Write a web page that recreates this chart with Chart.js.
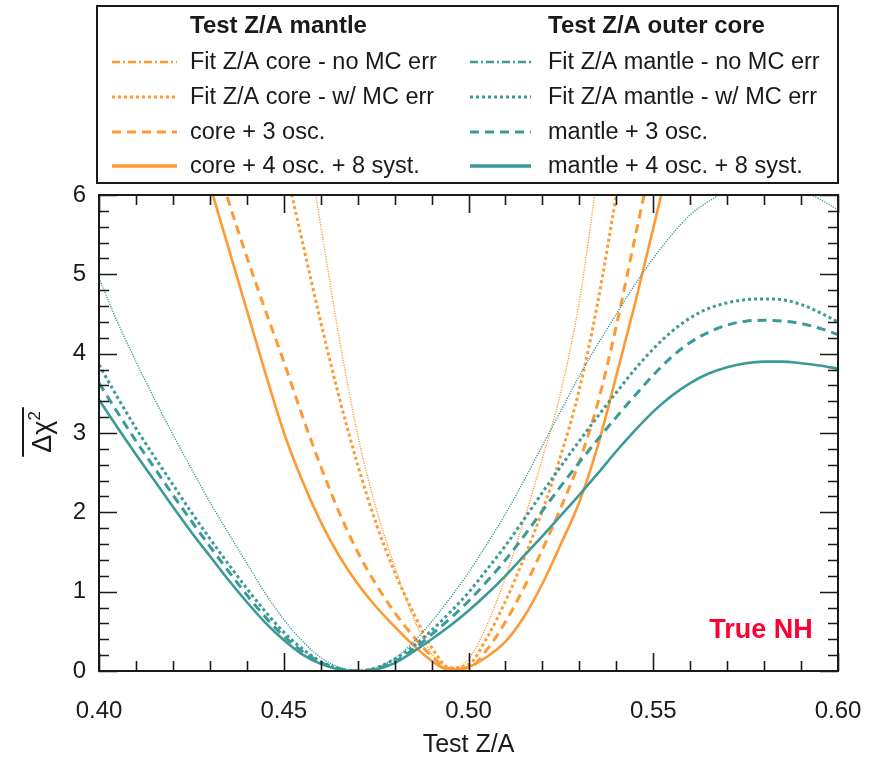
<!DOCTYPE html>
<html>
<head>
<meta charset="utf-8">
<script src="https://cdn.jsdelivr.net/npm/chart.js@4/dist/chart.umd.min.js"></script>
<style>
  html, body { margin: 0; padding: 0; background: #ffffff; }
  canvas { display: block; }
</style>
</head>
<body>
<canvas id="chart" width="873" height="760"></canvas>
<script>
// Test Z/A sample points
const testZA = [
  0.400, 0.405, 0.410, 0.415, 0.420, 0.425, 0.430, 0.435, 0.440, 0.445,
  0.450, 0.455, 0.460, 0.465, 0.470, 0.475, 0.480, 0.485, 0.490, 0.495,
  0.500, 0.505, 0.510, 0.515, 0.520, 0.525, 0.530, 0.535, 0.540, 0.545,
  0.550, 0.555, 0.560, 0.565, 0.570, 0.575, 0.580, 0.585, 0.590, 0.595, 0.600
];

// Test Z/A mantle: fit of the core Z/A (orange)
const coreNoMC = [
  null, null, null, null, null, null, null, null, null, null,
  null, 7.00, 5.62, 4.20, 2.98, 2.05, 1.32, 0.68, 0.22, 0.02,
  0.15, 0.58, 1.18, 1.90, 2.68, 3.52, 4.66, 6.25, 7.60, null,
  null, null, null, null, null, null, null, null, null, null, null
];
const coreWithMC = [
  null, null, null, null, null, null, null, null, null, null,
  6.45, 5.42, 4.40, 3.45, 2.60, 1.86, 1.25, 0.74, 0.30, 0.04,
  0.08, 0.42, 0.88, 1.42, 2.02, 2.72, 3.55, 4.65, 6.00, 7.40,
  null, null, null, null, null, null, null, null, null, null, null
];
const core3osc = [
  null, null, null, null, null, null, 6.70, 5.93, 5.22, 4.55,
  3.90, 3.22, 2.58, 2.00, 1.50, 1.09, 0.74, 0.44, 0.19, 0.03,
  0.04, 0.27, 0.62, 1.05, 1.53, 2.06, 2.64, 3.38, 4.35, 5.45,
  6.55, null, null, null, null, null, null, null, null, null, null
];
const core4osc8syst = [
  null, null, null, null, null, 6.95, 6.13, 5.34, 4.55, 3.76,
  3.01, 2.40, 1.88, 1.45, 1.10, 0.81, 0.56, 0.33, 0.13, 0.01,
  0.05, 0.18, 0.37, 0.68, 1.10, 1.60, 2.13, 2.84, 3.72, 4.62,
  5.58, 6.55, null, null, null, null, null, null, null, null, null
];

// Test Z/A outer core: fit of the mantle Z/A (teal)
const mantleNoMC = [
  4.95, 4.40, 3.90, 3.43, 2.98, 2.55, 2.13, 1.74, 1.36, 0.98,
  0.65, 0.38, 0.17, 0.05, 0.00, 0.04, 0.16, 0.36, 0.62, 0.92,
  1.24, 1.60, 1.98, 2.40, 2.84, 3.28, 3.72, 4.12, 4.50, 4.87,
  5.20, 5.50, 5.75, 5.92, 6.05, 6.12, 6.15, 6.13, 6.05, 5.95, 5.81
];
const mantleWithMC = [
  3.86, 3.45, 3.06, 2.70, 2.35, 2.00, 1.67, 1.35, 1.04, 0.75,
  0.49, 0.28, 0.12, 0.03, 0.00, 0.04, 0.15, 0.31, 0.51, 0.74,
  0.99, 1.28, 1.58, 1.91, 2.25, 2.58, 2.90, 3.21, 3.51, 3.80,
  4.06, 4.28, 4.45, 4.57, 4.64, 4.68, 4.69, 4.68, 4.62, 4.52, 4.40
];
const mantle3osc = [
  3.63, 3.26, 2.90, 2.56, 2.22, 1.89, 1.57, 1.26, 0.96, 0.68,
  0.44, 0.25, 0.11, 0.03, 0.00, 0.03, 0.12, 0.27, 0.46, 0.66,
  0.88, 1.13, 1.40, 1.70, 2.02, 2.33, 2.63, 2.92, 3.20, 3.47,
  3.73, 3.96, 4.14, 4.27, 4.36, 4.41, 4.42, 4.41, 4.38, 4.32, 4.24
];
const mantle4osc8syst = [
  3.42, 3.07, 2.73, 2.40, 2.07, 1.75, 1.45, 1.15, 0.87, 0.61,
  0.39, 0.21, 0.09, 0.02, 0.00, 0.02, 0.10, 0.24, 0.40, 0.57,
  0.76, 0.97, 1.20, 1.45, 1.70, 1.96, 2.22, 2.49, 2.77, 3.03,
  3.27, 3.47, 3.63, 3.75, 3.83, 3.88, 3.90, 3.90, 3.88, 3.85, 3.81
];

// Axis ticks and legend text
const xTickValues = [0.40, 0.45, 0.50, 0.55, 0.60];
const yTickValues = [0, 1, 2, 3, 4, 5, 6];
const groupTitles = ['Test Z/A mantle', 'Test Z/A outer core'];
const coreLabels = ['Fit Z/A core - no MC err', 'Fit Z/A core - w/ MC err', 'core + 3 osc.', 'core + 4 osc. + 8 syst.'];
const mantleLabels = ['Fit Z/A mantle - no MC err', 'Fit Z/A mantle - w/ MC err', 'mantle + 3 osc.', 'mantle + 4 osc. + 8 syst.'];
const xTitle = 'Test Z/A';
const hierarchyTag = 'True NH';

const ORANGE = '#FF9a33';
const TEAL = '#3a9a97';
const FONT = "'Liberation Sans', Arial, Helvetica, sans-serif";

// line styles: no MC err, w/ MC err, 3 osc., 4 osc. + 8 syst.
const plotStyles = [
  { width: 1.4, dash: [1.2, 1.3] },
  { width: 3.0, dash: [3, 3] },
  { width: 3.0, dash: [9, 6] },
  { width: 2.6, dash: [] }
];
const legendStyles = [
  { width: 2.5, dash: [8, 3, 2, 3] },
  { width: 3.0, dash: [3, 3] },
  { width: 3.0, dash: [9, 6] },
  { width: 3.5, dash: [] }
];

function series(values, color, style) {
  return {
    data: testZA.map((x, i) => ({ x: x, y: values[i] })),
    borderColor: color,
    borderWidth: style.width,
    borderDash: style.dash,
    pointRadius: 0,
    fill: false,
    spanGaps: false,
    cubicInterpolationMode: 'monotone'
  };
}

const datasets = [
  series(mantleNoMC, TEAL, plotStyles[0]),
  series(mantleWithMC, TEAL, plotStyles[1]),
  series(mantle3osc, TEAL, plotStyles[2]),
  series(mantle4osc8syst, TEAL, plotStyles[3]),
  series(coreNoMC, ORANGE, plotStyles[0]),
  series(coreWithMC, ORANGE, plotStyles[1]),
  series(core3osc, ORANGE, plotStyles[2]),
  series(core4osc8syst, ORANGE, plotStyles[3])
];

// Frame, inner ticks on all four sides, axis titles, label and legend box
const decorations = {
  id: 'decorations',
  afterDatasetsDraw(chart) {
    const ctx = chart.ctx;
    const a = chart.chartArea;
    const xs = chart.scales.x, ys = chart.scales.y;
    ctx.save();
    ctx.strokeStyle = '#1a1a1a';
    ctx.lineWidth = 2;
    ctx.setLineDash([]);
    ctx.strokeRect(a.left, a.top, a.right - a.left, a.bottom - a.top);

    ctx.lineWidth = 1.6;
    const MAJ = 18, MIN = 10;
    // x ticks, every 0.01 with majors at the labelled values
    for (let k = 0; k <= 20; k++) {
      const v = 0.40 + k * 0.01;
      const px = Math.round(xs.getPixelForValue(v)) + 0.5;
      const len = (k % 5 === 0) ? MAJ : MIN;
      ctx.beginPath();
      ctx.moveTo(px, a.bottom); ctx.lineTo(px, a.bottom - len);
      ctx.moveTo(px, a.top); ctx.lineTo(px, a.top + len);
      ctx.stroke();
    }
    // y ticks, every 0.2 with majors at integers
    for (let k = 0; k <= 30; k++) {
      const v = k * 0.2;
      const py = Math.round(ys.getPixelForValue(v)) + 0.5;
      const len = (k % 5 === 0) ? MAJ : MIN;
      ctx.beginPath();
      ctx.moveTo(a.left, py); ctx.lineTo(a.left + len, py);
      ctx.moveTo(a.right, py); ctx.lineTo(a.right - len, py);
      ctx.stroke();
    }

    // x-axis title
    ctx.fillStyle = '#1a1a1a';
    ctx.font = '25px ' + FONT;
    ctx.textAlign = 'center';
    ctx.textBaseline = 'alphabetic';
    ctx.fillText(xTitle, (a.left + a.right) / 2, 752);

    // y-axis title: overlined Δχ²
    ctx.save();
    ctx.translate(51, 432);
    ctx.rotate(-Math.PI / 2);
    ctx.font = '27px ' + FONT;
    ctx.textAlign = 'left';
    const w1 = ctx.measureText('\u0394\u03c7').width;
    ctx.font = '17px ' + FONT;
    const w2 = ctx.measureText('2').width;
    const total = w1 + w2;
    const s = -total / 2;
    ctx.font = '27px ' + FONT;
    ctx.fillText('\u0394\u03c7', s, 0);
    ctx.font = '17px ' + FONT;
    ctx.fillText('2', s + w1, -11);
    ctx.lineWidth = 2;
    ctx.beginPath();
    ctx.moveTo(s - 4, -28); ctx.lineTo(s + total + 4, -28);
    ctx.stroke();
    ctx.restore();

    // hierarchy tag
    ctx.fillStyle = '#ff0033';
    ctx.font = 'bold 27px ' + FONT;
    ctx.textAlign = 'center';
    ctx.fillText(hierarchyTag, 761, 638);

    // legend box
    ctx.fillStyle = '#ffffff';
    ctx.fillRect(97, 6, 741, 177);
    ctx.strokeStyle = '#1a1a1a';
    ctx.lineWidth = 2;
    ctx.strokeRect(97, 6, 741, 177);

    const cols = [
      { sx0: 112, sx1: 177, tx: 190, color: ORANGE, labels: coreLabels, title: groupTitles[0] },
      { sx0: 470, sx1: 531, tx: 548, color: TEAL, labels: mantleLabels, title: groupTitles[1] }
    ];
    const rowY = [62, 97, 132, 166];
    ctx.textAlign = 'left';
    ctx.textBaseline = 'middle';
    cols.forEach(c => {
      ctx.fillStyle = '#1a1a1a';
      ctx.font = 'bold 24px ' + FONT;
      ctx.fillText(c.title, c.tx, 26);
      ctx.font = '23.5px ' + FONT;
      c.labels.forEach((lab, i) => {
        const st = legendStyles[i];
        ctx.strokeStyle = c.color;
        ctx.lineWidth = st.width;
        ctx.setLineDash(st.dash);
        ctx.beginPath();
        ctx.moveTo(c.sx0, rowY[i]); ctx.lineTo(c.sx1, rowY[i]);
        ctx.stroke();
        ctx.setLineDash([]);
        ctx.fillStyle = '#1a1a1a';
        ctx.fillText(lab, c.tx, rowY[i] + 1);
      });
    });
    ctx.restore();
  }
};

new Chart(document.getElementById('chart').getContext('2d'), {
  type: 'line',
  data: { datasets: datasets },
  options: {
    responsive: false,
    animation: false,
    devicePixelRatio: 1,
    layout: { padding: { top: 195, right: 35, left: 0, bottom: 0 } },
    plugins: { legend: { display: false }, tooltip: { enabled: false } },
    elements: { point: { radius: 0 } },
    scales: {
      x: {
        type: 'linear',
        min: 0.40,
        max: 0.60,
        grid: { display: false, drawTicks: false },
        border: { display: false },
        afterBuildTicks: s => { s.ticks = xTickValues.map(v => ({ value: v })); },
        afterFit: s => { s.height = 89; s.paddingLeft = 0; s.paddingRight = 0; },
        ticks: {
          autoSkip: false,
          maxRotation: 0,
          padding: 26,
          color: '#1a1a1a',
          font: { family: FONT, size: 24 },
          callback: v => Number(v).toFixed(2)
        }
      },
      y: {
        type: 'linear',
        min: 0,
        max: 6,
        grid: { display: false, drawTicks: false },
        border: { display: false },
        afterBuildTicks: s => { s.ticks = yTickValues.map(v => ({ value: v })); },
        afterFit: s => { s.width = 99; s.paddingTop = 0; s.paddingBottom = 0; },
        ticks: {
          autoSkip: false,
          padding: 13,
          color: '#1a1a1a',
          font: { family: FONT, size: 24 },
          callback: v => String(v)
        }
      }
    }
  },
  plugins: [decorations]
});
</script>
</body>
</html>
